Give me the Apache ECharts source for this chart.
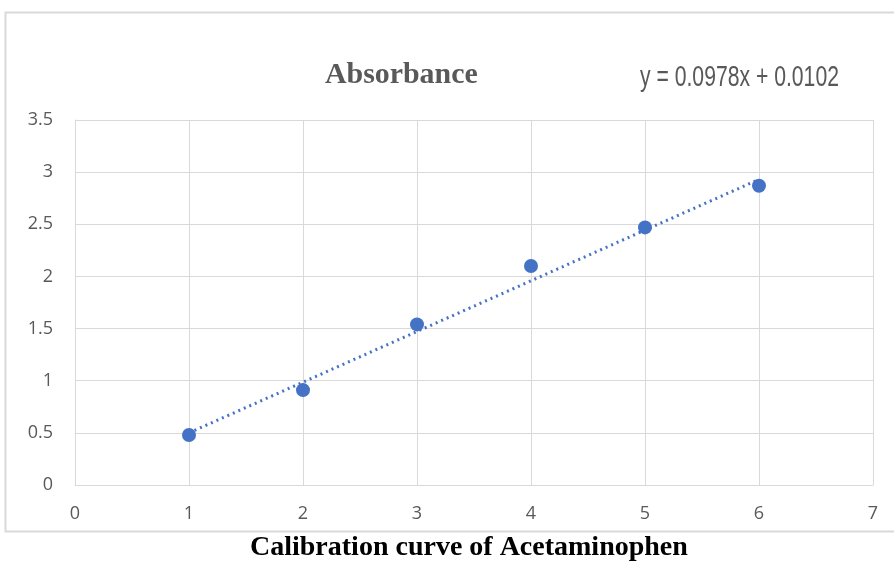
<!DOCTYPE html>
<html>
<head>
<meta charset="utf-8">
<script src="https://cdn.jsdelivr.net/npm/echarts@6/dist/echarts.min.js"></script>
<style>
  html, body { margin: 0; padding: 0; background: #fff; }
  #chart { width: 894px; height: 561px; }
</style>
</head>
<body>
<div id="chart"></div>
<script>
// concentration vs absorbance
var concX = [1, 2, 3, 4, 5, 6];
var absY = [0.48, 0.91, 1.54, 2.10, 2.47, 2.87];
// trendline end points
var trendX = [1, 6];
var trendY = [0.5, 2.93];
var xTicks = [0, 1, 2, 3, 4, 5, 6, 7];
var yTicks = [0, 0.5, 1, 1.5, 2, 2.5, 3, 3.5];

var chart = echarts.init(document.getElementById("chart"));

var points = [];
for (var i = 0; i < concX.length; i++) points.push([concX[i], absY[i]]);
var trend = [];
for (var j = 0; j < trendX.length; j++) trend.push([trendX[j], trendY[j]]);

var labelFont = "'Open Sans', 'Noto Sans', sans-serif";

var option = {
    animation: false,
    grid: { left: 75, right: 21, top: 120, bottom: 76 },
    graphic: [
        {
            type: "rect",
            shape: { x: 5.5, y: 12.5, width: 900, height: 519 },
            style: { fill: "none", stroke: "#d9d9d9", lineWidth: 2 }
        },
        {
            type: "text",
            x: 325, y: 61,
            scaleX: 1.03,
            style: {
                text: "Absorbance",
                font: "bold 29px 'Liberation Serif', serif",
                fill: "#595959"
            }
        },
        {
            type: "text",
            x: 640, y: 63,
            scaleX: 0.73,
            style: {
                text: "y = 0.0978x + 0.0102",
                font: "29px 'Liberation Sans', sans-serif",
                fill: "#595959"
            }
        },
        {
            type: "text",
            x: 250, y: 534,
            style: {
                text: "Calibration curve of Acetaminophen",
                font: "bold 28px 'Liberation Serif', serif",
                fill: "#000"
            }
        }
    ],
    xAxis: {
        type: "value",
        min: xTicks[0], max: xTicks[xTicks.length - 1], interval: 1,
        axisLine: { show: true, lineStyle: { color: "#d9d9d9", width: 1 } },
        axisTick: { show: false },
        splitLine: { show: true, lineStyle: { color: "#d9d9d9", width: 1 } },
        axisLabel: { color: "#595959", fontSize: 18, fontFamily: labelFont, margin: 20 }
    },
    yAxis: {
        type: "value",
        min: yTicks[0], max: yTicks[yTicks.length - 1], interval: 0.5,
        axisLine: { show: true, lineStyle: { color: "#d9d9d9", width: 1 } },
        axisTick: { show: false },
        splitLine: { show: true, lineStyle: { color: "#d9d9d9", width: 1 } },
        axisLabel: { color: "#595959", fontSize: 18, fontFamily: labelFont, margin: 22 }
    },
    series: [
        {
            name: "trend",
            type: "line",
            data: trend,
            symbol: "none",
            lineStyle: { color: "#4472C4", width: 3, type: [2, 4] },
            z: 2
        },
        {
            name: "Absorbance",
            type: "scatter",
            data: points,
            symbolSize: 14,
            itemStyle: { color: "#4472C4", opacity: 1 },
            z: 3
        }
    ]
};
if (option && option.series) {
    chart.setOption(option);
}
</script>
</body>
</html>
